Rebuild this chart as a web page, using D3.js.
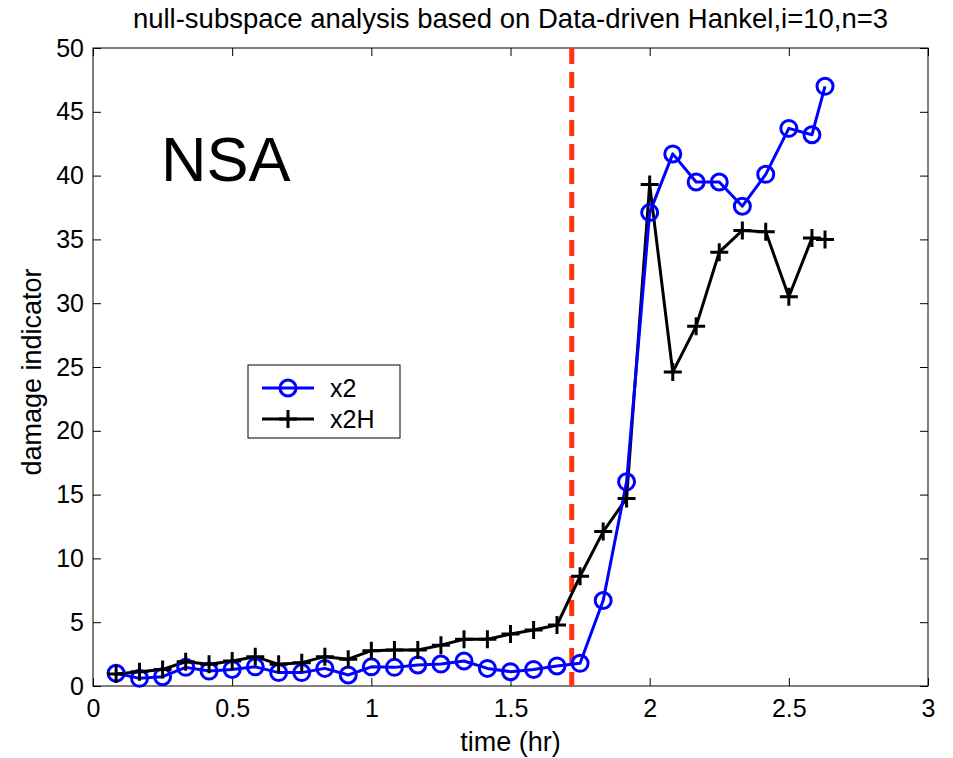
<!DOCTYPE html>
<html>
<head>
<meta charset="utf-8">
<script src="https://cdn.jsdelivr.net/npm/d3@7"></script>
<style>
  body { margin: 0; background: #fff; }
  text { font-family: "Liberation Sans", Arial, sans-serif; }
</style>
</head>
<body>
<div id="chart"></div>
<script>
// time axis (hr): k/12 for k=1..31, plus one last sample
const timeHr = [0.083, 0.167, 0.25, 0.333, 0.417, 0.5, 0.583, 0.667, 0.75, 0.833,
    0.917, 1.0, 1.083, 1.167, 1.25, 1.333, 1.417, 1.5, 1.583, 1.667,
    1.75, 1.833, 1.917, 2.0, 2.083, 2.167, 2.25, 2.333, 2.417, 2.5,
    2.583, 2.63];

const x2 = [1.0, 0.6, 0.73, 1.46, 1.17, 1.3, 1.5, 1.05, 1.05, 1.38,
    0.86, 1.5, 1.46, 1.65, 1.72, 1.96, 1.38, 1.12, 1.3, 1.57,
    1.78, 6.7, 16.0, 37.1, 41.7, 39.5, 39.5, 37.6, 40.1, 43.7,
    43.2, 47.0];

const x2H = [0.95, 1.12, 1.3, 1.9, 1.7, 1.96, 2.3, 1.7, 1.83, 2.3,
    2.1, 2.77, 2.82, 2.82, 3.2, 3.66, 3.66, 4.07, 4.39, 4.78,
    8.6, 12.1, 14.7, 39.3, 24.6, 28.2, 34.0, 35.7, 35.6, 30.5,
    35.1, 35.0];

const xTicks = [0, 0.5, 1, 1.5, 2, 2.5, 3];
const yTicks = [0, 5, 10, 15, 20, 25, 30, 35, 40, 45, 50];
const damageTime = 1.72;

const titleText = "null-subspace analysis based on Data-driven Hankel,i=10,n=3";

const W = 953, H = 758;
const margin = { top: 48, right: 25, bottom: 72, left: 93 };
const width = W - margin.left - margin.right;
const height = H - margin.top - margin.bottom;

const svg = d3.select("#chart").append("svg")
    .attr("width", W)
    .attr("height", H);

const g = svg.append("g")
    .attr("transform", `translate(${margin.left},${margin.top})`);

const x = d3.scaleLinear().domain([0, 3]).range([0, width]);
const y = d3.scaleLinear().domain([0, 50]).range([height, 0]);

// box
g.append("rect")
    .attr("width", width)
    .attr("height", height)
    .attr("fill", "none")
    .attr("stroke", "#000")
    .attr("stroke-width", 1);

// axes with inward ticks (bottom/left labelled, top/right plain)
const tickLen = 8;
g.append("g").attr("transform", `translate(0,${height})`)
    .call(d3.axisBottom(x).tickValues(xTicks).tickSizeInner(-tickLen).tickSizeOuter(0).tickPadding(13)
        .tickFormat(d3.format("")));
g.append("g")
    .call(d3.axisTop(x).tickValues(xTicks).tickSizeInner(-tickLen).tickSizeOuter(0).tickFormat(""));
g.append("g")
    .call(d3.axisLeft(y).tickValues(yTicks).tickSizeInner(-tickLen).tickSizeOuter(0).tickPadding(9));
g.append("g").attr("transform", `translate(${width},0)`)
    .call(d3.axisRight(y).tickValues(yTicks).tickSizeInner(-tickLen).tickSizeOuter(0).tickFormat(""));

g.selectAll(".domain").remove();
g.selectAll(".tick line").attr("stroke", "#000");
g.selectAll(".tick text")
    .attr("fill", "#000")
    .style("font-size", "25px")
    .style("font-family", "'Liberation Sans', Arial, sans-serif");

// damage onset line
g.append("line")
    .attr("x1", x(damageTime)).attr("x2", x(damageTime))
    .attr("y1", 0).attr("y2", height)
    .attr("stroke", "#ff3311")
    .attr("stroke-width", 5)
    .attr("stroke-dasharray", "16,8");

const pts = timeHr.map((t, i) => ({ t: t, a: x2[i], b: x2H[i] }));

// x2H black line with plus markers
g.append("path")
    .datum(pts)
    .attr("fill", "none")
    .attr("stroke", "#000")
    .attr("stroke-width", 3)
    .attr("stroke-linejoin", "round")
    .attr("d", d3.line().x(d => x(d.t)).y(d => y(d.b)));

// x2 blue line with circle markers
g.append("path")
    .datum(pts)
    .attr("fill", "none")
    .attr("stroke", "#0000ff")
    .attr("stroke-width", 3)
    .attr("stroke-linejoin", "round")
    .attr("d", d3.line().x(d => x(d.t)).y(d => y(d.a)));

g.selectAll(".circ")
    .data(pts)
    .join("circle")
    .attr("class", "circ")
    .attr("cx", d => x(d.t))
    .attr("cy", d => y(d.a))
    .attr("r", 8)
    .attr("fill", "none")
    .attr("stroke", "#0000ff")
    .attr("stroke-width", 3);

const plusSize = 9;
g.selectAll(".plus")
    .data(pts)
    .join("path")
    .attr("class", "plus")
    .attr("d", d => {
        const cx = x(d.t), cy = y(d.b);
        return `M${cx - plusSize},${cy}H${cx + plusSize}M${cx},${cy - plusSize}V${cy + plusSize}`;
    })
    .attr("stroke", "#000")
    .attr("stroke-width", 3);

// NSA label
g.append("text")
    .attr("x", 68)
    .attr("y", 133)
    .style("font-size", "63px")
    .text("NSA");

// title
svg.append("text")
    .attr("x", margin.left + width / 2)
    .attr("y", 28)
    .attr("text-anchor", "middle")
    .style("font-size", "27.5px")
    .text(titleText);

// axis labels
svg.append("text")
    .attr("x", margin.left + width / 2 + 0)
    .attr("y", 751)
    .attr("text-anchor", "middle")
    .style("font-size", "27px")
    .text("time (hr)");

svg.append("text")
    .attr("transform", `translate(41,372) rotate(-90)`)
    .attr("text-anchor", "middle")
    .style("font-size", "27px")
    .text("damage indicator");

// legend
const legend = svg.append("g").attr("transform", "translate(248,365)");
legend.append("rect")
    .attr("width", 152).attr("height", 73)
    .attr("fill", "#fff").attr("stroke", "#000").attr("stroke-width", 1);

const legendItems = [
    { label: "x2", color: "#0000ff", marker: "circle", y: 23 },
    { label: "x2H", color: "#000", marker: "plus", y: 54 }
];
legendItems.forEach(it => {
    legend.append("line")
        .attr("x1", 14).attr("x2", 66)
        .attr("y1", it.y).attr("y2", it.y)
        .attr("stroke", it.color).attr("stroke-width", 3);
    if (it.marker === "circle") {
        legend.append("circle")
            .attr("cx", 40).attr("cy", it.y).attr("r", 8)
            .attr("fill", "none").attr("stroke", it.color).attr("stroke-width", 3);
    } else {
        legend.append("path")
            .attr("d", `M${40 - plusSize},${it.y}H${40 + plusSize}M40,${it.y - plusSize}V${it.y + plusSize}`)
            .attr("stroke", it.color).attr("stroke-width", 3);
    }
    legend.append("text")
        .attr("x", 82).attr("y", it.y + 9)
        .style("font-size", "25px")
        .text(it.label);
});
</script>
</body>
</html>
